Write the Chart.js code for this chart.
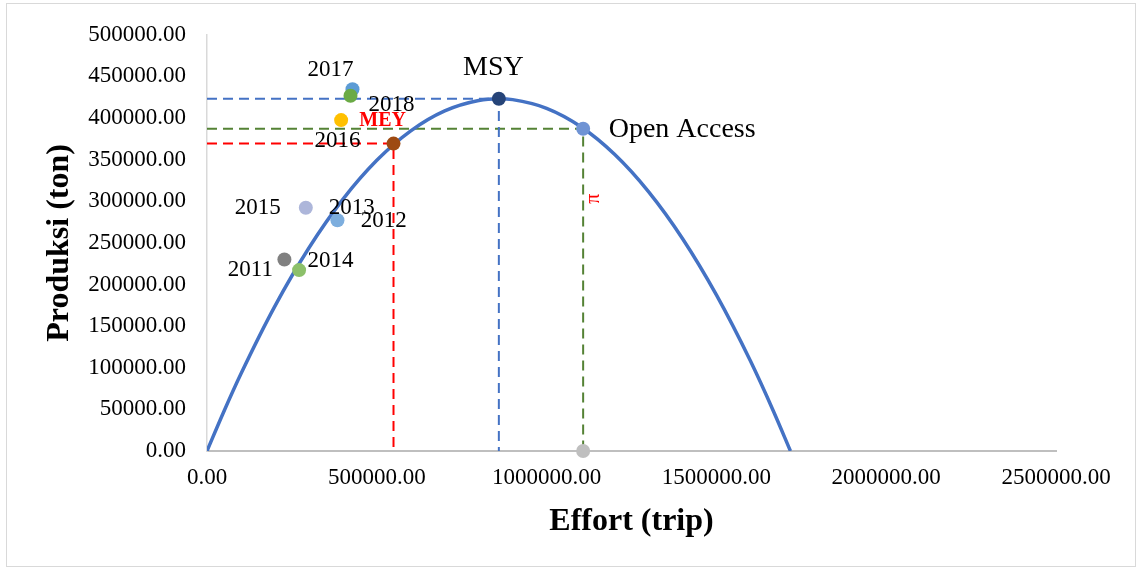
<!DOCTYPE html>
<html><head><meta charset="utf-8">
<script src="https://cdn.jsdelivr.net/npm/chart.js@4/dist/chart.umd.min.js"></script>
<style>html,body{margin:0;padding:0;background:#fff;}canvas{display:block;}</style>
</head><body>
<canvas id="c" width="1137" height="569"></canvas>
<script>
// ---- data ----
const curveEffort = [0, 50000, 100000, 200000, 300000, 400000, 500000, 600000, 700000, 800000, 859400, 900000, 1000000, 1100000, 1200000, 1300000, 1400000, 1500000, 1600000, 1668000, 1718000];
const curveProd   = [0, 47800, 92800, 174100, 243900, 302300, 349200, 384600, 408600, 421100, 423100, 422100, 411700, 389800, 356400, 311600, 255300, 187500, 108300, 47800, 0];

const yearLabels = ['2011', '2012', '2014', '2015', '2016', '2017', '2018'];
const yearEffort = [227900, 384100, 271200, 291000, 549200, 428400, 422500];
const yearProd   = [230000, 277200, 217300, 292200, 369300, 434600, 426700];

const refLabels = ['MEY', 'MSY', 'Open Access', 'OA effort'];
const refEffort = [395000, 859400, 1107600, 1107600];
const refProd   = [397500, 423100, 387200, 0];

const xTickValues = [0, 500000, 1000000, 1500000, 2000000, 2500000];
const yTickValues = [0, 50000, 100000, 150000, 200000, 250000, 300000, 350000, 400000, 450000, 500000];

// ---- styles ----
const yearColors = ['#808080', '#7DAEDE', '#8CC06A', '#ADB6DA', '#9E4A12', '#5B9BD5', '#6AAA45'];
const refColors  = ['#FFC000', '#264478', '#6F93D4', '#BFBFBF'];
const FONT = "'Liberation Serif', 'Times New Roman', serif";

const pts = (xs, ys) => xs.map((x, i) => ({x: x, y: ys[i]}));
const guide = (i) => [{x: 0, y: refProd[i]}, {x: refEffort[i], y: refProd[i]}, {x: refEffort[i], y: 0}];
const guideRed = [{x: 0, y: yearProd[4]}, {x: yearEffort[4], y: yearProd[4]}, {x: yearEffort[4], y: 0}];

const annos = [
  {t: '2017', x: yearEffort[5], y: yearProd[5], dx: -22, dy: -19.5, f: '23px'},
  {t: '2018', x: yearEffort[6], y: yearProd[6], dx: 41, dy: 9, f: '23px'},
  {t: 'MEY', x: refEffort[0], y: refProd[0], dx: 41.5, dy: 0.5, f: 'bold 20px', c: '#FF0000'},
  {t: '2016', x: yearEffort[4], y: yearProd[4], dx: -56, dy: -3, f: '23px'},
  {t: 'MSY', x: refEffort[1], y: refProd[1], dx: -5.5, dy: -31, f: '28px'},
  {t: 'Open Access', x: refEffort[2], y: refProd[2], dx: 99, dy: 1, f: '28px'},
  {t: 'π', x: refEffort[2], y: refProd[2], dx: 11, dy: 70, f: '20px', c: '#FF0000', rot: -Math.PI / 2},
  {t: '2015', x: yearEffort[3], y: yearProd[3], dx: -48, dy: 0, f: '23px'},
  {t: '2013', x: yearEffort[3], y: yearProd[3], dx: 46, dy: 0, f: '23px'},
  {t: '2012', x: yearEffort[1], y: yearProd[1], dx: 46.4, dy: 0.7, f: '23px'},
  {t: '2011', x: yearEffort[0], y: yearProd[0], dx: -34, dy: 10.6, f: '23px'},
  {t: '2014', x: yearEffort[2], y: yearProd[2], dx: 31.3, dy: -9.3, f: '23px'}
];

const framePlugin = {
  id: 'frame',
  beforeDraw(chart) {
    const ctx = chart.ctx;
    ctx.save();
    ctx.fillStyle = '#fff';
    ctx.fillRect(0, 0, chart.width, chart.height);
    ctx.strokeStyle = '#D9D9D9';
    ctx.lineWidth = 1;
    ctx.strokeRect(6.5, 3.5, 1129, 563);
    ctx.restore();
  },
  afterDatasetsDraw(chart) {
    const ctx = chart.ctx, xs = chart.scales.x, ys = chart.scales.y;
    ctx.save();
    ctx.textAlign = 'center';
    ctx.textBaseline = 'middle';
    annos.forEach(a => {
      const px = xs.getPixelForValue(a.x) + a.dx;
      const py = ys.getPixelForValue(a.y) + a.dy;
      ctx.font = a.f + ' ' + FONT;
      ctx.fillStyle = a.c || '#000';
      ctx.save();
      ctx.translate(px, py);
      if (a.rot) ctx.rotate(a.rot);
      ctx.fillText(a.t, 0, 0);
      ctx.restore();
    });
    ctx.restore();
  }
};

new Chart(document.getElementById('c'), {
  type: 'scatter',
  data: {
    datasets: [
      {label: 'years', data: pts(yearEffort, yearProd), backgroundColor: yearColors, borderColor: yearColors, borderWidth: 0, pointRadius: 7, pointHoverRadius: 7, clip: false},
      {label: 'refs', data: pts(refEffort, refProd), backgroundColor: refColors, borderColor: refColors, borderWidth: 0, pointRadius: 7, pointHoverRadius: 7, clip: false},
      {label: 'curve', data: pts(curveEffort, curveProd), showLine: true, borderColor: '#4472C4', borderWidth: 3.5, pointRadius: 0, cubicInterpolationMode: 'monotone', fill: false},
      {label: 'msy', data: guide(1), showLine: true, borderColor: '#4472C4', borderWidth: 2, borderDash: [10, 6], pointRadius: 0},
      {label: 'oa', data: guide(2), showLine: true, borderColor: '#548235', borderWidth: 2, borderDash: [10, 6], pointRadius: 0},
      {label: 'mey', data: guideRed, showLine: true, borderColor: '#FF0000', borderWidth: 2, borderDash: [10, 6], pointRadius: 0}
    ]
  },
  options: {
    responsive: false,
    animation: false,
    devicePixelRatio: 1,
    layout: {padding: {left: 0, right: 81, top: 33, bottom: 0}},
    plugins: {legend: {display: false}, tooltip: {enabled: false}},
    scales: {
      x: {
        type: 'linear', min: 0, max: 2500000,
        afterBuildTicks: s => { s.ticks = xTickValues.map(v => ({value: v})); },
        afterFit: s => { s.height = 118; },
        grid: {display: false, drawTicks: false},
        border: {display: true, color: '#BFBFBF', width: 2},
        ticks: {padding: 13, color: '#000', font: {family: FONT, size: 23}, callback: v => Number(v).toFixed(2), maxRotation: 0, autoSkip: false},
        title: {display: true, text: 'Effort (trip)', color: '#000', font: {family: FONT, size: 32, weight: 'bold', lineHeight: 1.2}, padding: {top: 0, bottom: 28}}
      },
      y: {
        type: 'linear', min: 0, max: 500000,
        afterBuildTicks: s => { s.ticks = yTickValues.map(v => ({value: v})); },
        afterFit: s => { s.width = 207; },
        grid: {display: false, drawTicks: false},
        border: {display: true, color: '#D9D9D9', width: 1.5},
        ticks: {padding: 21, color: '#000', font: {family: FONT, size: 23}, callback: v => Number(v).toFixed(2), autoSkip: false},
        title: {display: true, text: 'Produksi (ton)', color: '#000', font: {family: FONT, size: 32, weight: 'bold', lineHeight: 1.2}, padding: {top: 41, bottom: 0}}
      }
    }
  },
  plugins: [framePlugin]
});
</script>
</body></html>
